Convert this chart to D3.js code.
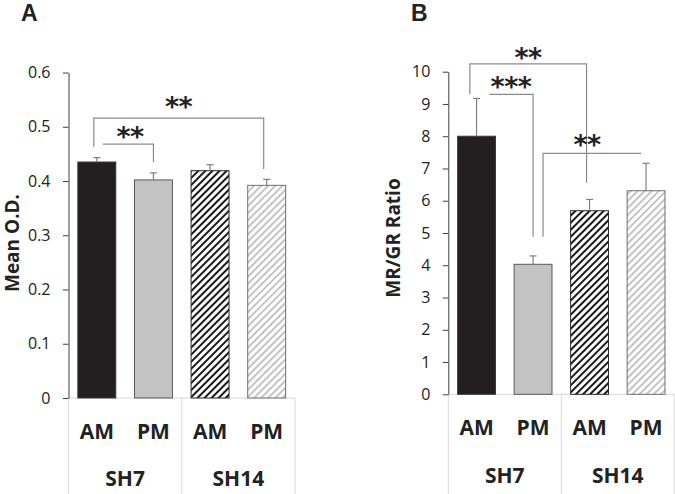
<!DOCTYPE html>
<html><head><meta charset="utf-8">
<script src="https://cdn.jsdelivr.net/npm/d3@7"></script>
<style>body{margin:0;background:#fff}svg{display:block}</style>
</head><body>
<svg id="c" width="675" height="494"></svg>
<script>
// ---- data ----
const conditions = ["AM","PM","AM","PM"];
const groups = ["SH7","SH14"];
const meanOD = [0.435, 0.402, 0.419, 0.392];
const meanODErr = [0.008, 0.013, 0.011, 0.011];
const mrgr = [8.0, 4.03, 5.69, 6.31];
const mrgrErr = [1.17, 0.26, 0.35, 0.85];
const ticksA = [0, 0.1, 0.2, 0.3, 0.4, 0.5, 0.6];
const ticksB = [0,1,2,3,4,5,6,7,8,9,10];
// brackets: from bar, to bar, level, left drop end, right drop end (null = none), label
const bracketsA = [
  {from:0, to:1, level:0.468, l:null, r:0.435, label:"**"},
  {from:0, to:3, level:0.516, l:0.463, r:0.422, label:"**"}
];
const bracketsB = [
  {from:0, to:2, level:10.24, l:9.31, r:6.56, label:"**"},
  {from:0, to:1, level:9.30, l:null, r:4.88, label:"***"},
  {from:1, to:3, level:7.47, l:4.88, r:null, label:"**"}
];

const svg = d3.select("#c");
const defs = svg.append("defs");
function hatch(id, color){
  const p = defs.append("pattern").attr("id", id).attr("patternUnits","userSpaceOnUse")
    .attr("width",5).attr("height",5).attr("patternTransform","rotate(45)");
  p.append("rect").attr("width",5).attr("height",5).attr("fill","#fff");
  p.append("rect").attr("x",0).attr("y",0).attr("width",2).attr("height",5).attr("fill",color);
}
hatch("hBlack","#1a1a1a");
hatch("hGray","#c4c4c4");
const fills = ["#231f20","#c3c3c3","url(#hBlack)","url(#hGray)"];
const strokes = ["#3a3a3a","#5a5a5a","#2a2a2a","#6e6e6e"];

function panel(o){
  const g = svg.append("g");
  const x = d3.scaleBand().domain(d3.range(4)).range([o.x0,o.x1]).paddingInner(0.33).paddingOuter(0.165);
  const y = d3.scaleLinear().domain(o.domain).range([o.y0,o.y1]);
  // category box
  const boxC = "#d9d9d9";
  g.append("line").attr("x1",o.x0).attr("x2",o.x1).attr("y1",o.y0).attr("y2",o.y0).attr("stroke",boxC);
  [o.x0, (o.x0+o.x1)/2, o.x1].forEach(v=>{
    g.append("line").attr("x1",v).attr("x2",v).attr("y1",o.y0).attr("y2",494).attr("stroke",boxC);
  });
  // y axis
  const ax = g.append("g").attr("transform",`translate(${o.x0},0)`)
    .call(d3.axisLeft(y).tickValues(o.ticks).tickSize(5.5).tickPadding(12.5).tickFormat(o.fmt).tickSizeOuter(0));
  ax.select(".domain").attr("stroke","#404040");
  ax.selectAll(".tick line").attr("stroke","#404040");
  ax.selectAll(".tick text").attr("font-family","'Open Sans'").attr("font-size",16).attr("fill","#222");
  // bars
  g.selectAll("rect.bar").data(o.values).join("rect").attr("class","bar")
    .attr("x",(d,i)=>x(i)).attr("width",x.bandwidth())
    .attr("y",d=>y(d)).attr("height",d=>y(0)-y(d))
    .attr("fill",(d,i)=>fills[i]).attr("stroke",(d,i)=>strokes[i]).attr("stroke-width",1);
  // error bars
  o.values.forEach((d,i)=>{
    const cx = x(i)+x.bandwidth()/2;
    g.append("line").attr("x1",cx).attr("x2",cx).attr("y1",y(d)).attr("y2",y(d+o.err[i])).attr("stroke","#7f7f7f").attr("stroke-width",1.2);
    g.append("line").attr("x1",cx-3.5).attr("x2",cx+3.5).attr("y1",y(d+o.err[i])).attr("y2",y(d+o.err[i])).attr("stroke","#7f7f7f").attr("stroke-width",1.2);
  });
  // category labels
  conditions.forEach((c,i)=>{
    g.append("text").attr("x",x(i)+x.bandwidth()/2).attr("y",o.catY).attr("dy","0.36em")
      .attr("text-anchor","middle").attr("font-family","'Open Sans'").attr("font-weight","bold")
      .attr("font-size",21).attr("fill","#222").text(c);
  });
  groups.forEach((gname,j)=>{
    g.append("text").attr("x",(x(2*j)+x(2*j+1)+x.bandwidth())/2).attr("y",o.grpY).attr("dy","0.36em")
      .attr("text-anchor","middle").attr("font-family","'Open Sans'").attr("font-weight","bold")
      .attr("font-size",21).attr("fill","#222").text(gname);
  });
  // y label
  g.append("text").attr("transform",`translate(${o.labX},${o.labY}) rotate(-90)`).attr("dy","0.36em")
    .attr("text-anchor","middle").attr("font-family","'Open Sans'").attr("font-weight","bold")
    .attr("font-size",19).attr("fill","#222").text(o.label);
  // panel letter
  g.append("text").attr("x",o.letterX).attr("y",21).attr("font-family","'Liberation Sans'").attr("font-weight","bold")
    .attr("font-size",23).attr("fill","#222").text(o.letter);
  // brackets
  o.brackets.forEach((b,k)=>{
    const off = o.offs[k];
    const xl = x(b.from)+x.bandwidth()/2+off[0];
    const xr = x(b.to)+x.bandwidth()/2+off[1];
    const yl = y(b.level);
    let p = "";
    if(b.l!==null) p += `M${xl},${y(b.l)}L${xl},${yl}`; else p += `M${xl},${yl}`;
    p += `L${xr},${yl}`;
    if(b.r!==null) p += `L${xr},${y(b.r)}`;
    g.append("path").attr("d",p).attr("fill","none").attr("stroke","#8a8a8a").attr("stroke-width",1.2);
    g.append("text").attr("x",off[2]).attr("y",off[3]-6).attr("text-anchor","middle")
      .attr("font-family","'DejaVu Sans'").attr("font-weight","bold").attr("font-size",27)
      .attr("letter-spacing",-0.5).attr("dy","0.72em").attr("fill","#222").text(b.label);
  });
}

panel({x0:68.5,x1:295,y0:398,y1:72.5,domain:[0,0.6],ticks:ticksA,fmt:d=>d===0?"0":d3.format(".1f")(d),
  values:meanOD,err:meanODErr,catY:431.5,grpY:478,label:"Mean O.D.",labX:12,labY:243,letter:"A",letterX:21,
  brackets:bracketsA, offs:[[6,0,130,133],[-3,-3,178.5,102.5]]});
panel({x0:448.3,x1:674.3,y0:394.3,y1:71.7,domain:[0,10],ticks:ticksB,fmt:d3.format("d"),
  values:mrgr,err:mrgrErr,catY:427.7,grpY:475,label:"MR/GR Ratio",labX:393,labY:238,letter:"B",letterX:411,
  brackets:bracketsB, offs:[[-6.7,-3,528,54],[13,0,511,83],[10,-5,587,141]]});
</script>
</body></html>
